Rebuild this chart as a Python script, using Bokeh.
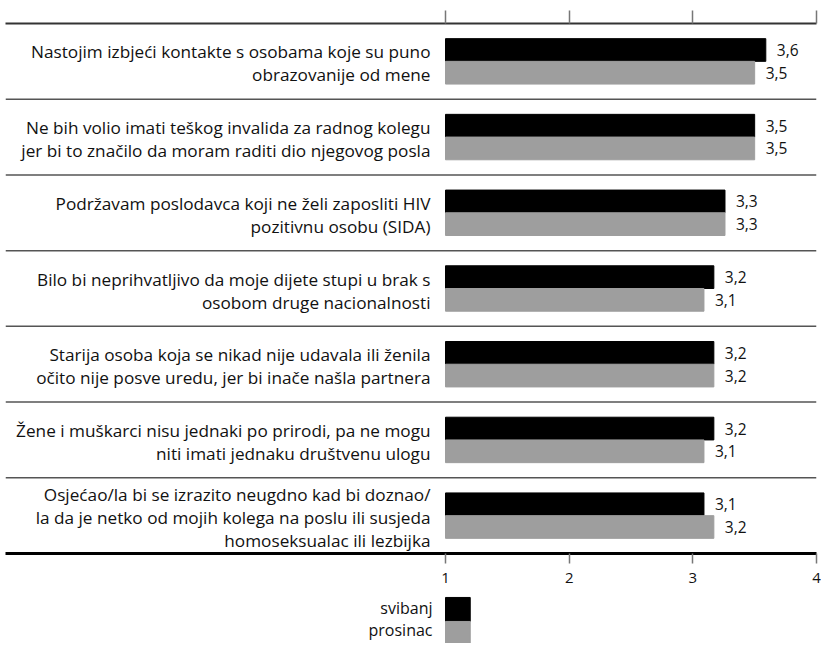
from bokeh.plotting import figure
from bokeh.models import Range1d, LinearAxis, FixedTicker, Span, ColumnDataSource, CustomJSTickFormatter
from bokeh.transform import dodge
from bokeh.layouts import column
from bokeh.core.properties import value
from bokeh.embed import file_html
from bokeh.resources import INLINE

categories = [
    "Nastojim izbjeći kontakte s osobama koje su puno\nobrazovanije od mene",
    "Ne bih volio imati teškog invalida za radnog kolegu\njer bi to značilo da moram raditi dio njegovog posla",
    "Podržavam poslodavca koji ne želi zaposliti HIV\npozitivnu osobu (SIDA)",
    "Bilo bi neprihvatljivo da moje dijete stupi u brak s\nosobom druge nacionalnosti",
    "Starija osoba koja se nikad nije udavala ili ženila\nočito nije posve uredu, jer bi inače našla partnera",
    "Žene i muškarci nisu jednaki po prirodi, pa ne mogu\nniti imati jednaku društvenu ulogu",
    "Osjećao/la bi se izrazito neugdno kad bi doznao/\nla da je netko od mojih kolega na poslu ili susjeda\nhomoseksualac ili lezbijka",
]
svibanj = [3.59, 3.50, 3.26, 3.17, 3.17, 3.17, 3.09]
prosinac = [3.50, 3.50, 3.26, 3.09, 3.17, 3.09, 3.17]
svibanj_labels = ["3,6", "3,5", "3,3", "3,2", "3,2", "3,2", "3,1"]
prosinac_labels = ["3,5", "3,5", "3,3", "3,1", "3,2", "3,1", "3,2"]
ticks = [1, 2, 3, 4]
series_names = ["svibanj", "prosinac"]

BLACK = "#000000"
GRAY = "#9e9e9e"
FONT = "Open Sans"
TEXT = "#111111"

n = len(categories)
idx = list(range(n))
src = ColumnDataSource(dict(y=idx, cat=categories, s=svibanj, p=prosinac,
                            sl=svibanj_labels, pl=prosinac_labels))

x_range = Range1d(-2.558, 4)
p = figure(width=821, height=590, x_range=x_range, y_range=Range1d(n - 0.5, -0.5),
           x_axis_location=None, y_axis_location=None, toolbar_location=None,
           output_backend="svg", min_border_left=5, min_border_right=5,
           min_border_top=23, min_border_bottom=37)
p.outline_line_color = None
p.xgrid.visible = False
p.ygrid.visible = False
p.background_fill_color = "white"
p.border_fill_color = "white"

top_axis = LinearAxis(ticker=FixedTicker(ticks=ticks),
                      formatter=CustomJSTickFormatter(code="return ''"))
top_axis.axis_line_width = 2
top_axis.axis_line_color = "#333333"
top_axis.major_tick_out = 13
top_axis.major_tick_in = 0
top_axis.major_tick_line_color = "#777777"
top_axis.major_tick_line_width = 1.5
top_axis.minor_tick_line_color = None
top_axis.major_label_text_font_size = "0px"
top_axis.major_label_standoff = 0
p.add_layout(top_axis, "above")

bottom_axis = LinearAxis(ticker=FixedTicker(ticks=ticks))
bottom_axis.axis_line_width = 3
bottom_axis.axis_line_color = "#000000"
bottom_axis.major_tick_out = 10
bottom_axis.major_tick_in = 0
bottom_axis.major_tick_line_color = "#777777"
bottom_axis.major_tick_line_width = 1.5
bottom_axis.minor_tick_line_color = None
bottom_axis.major_label_text_font = FONT
bottom_axis.major_label_text_font_size = "15px"
bottom_axis.major_label_text_color = TEXT
bottom_axis.major_label_standoff = 9
p.add_layout(bottom_axis, "below")

for i in range(n - 1):
    p.add_layout(Span(location=i + 0.5, dimension="width", line_color="#555555", line_width=1.5))

p.hbar(y=dodge("y", -0.15, range=p.y_range), left=1, right="s", height=0.3,
       color=BLACK, source=src)
p.hbar(y=dodge("y", 0.15, range=p.y_range), left=1, right="p", height=0.3,
       color=GRAY, source=src)

p.text(x="s", y=dodge("y", -0.15, range=p.y_range), text="sl", x_offset=11,
       text_baseline="middle", text_align="left", text_font=value(FONT),
       text_font_size="15.5px", text_color=TEXT, source=src)
p.text(x="p", y=dodge("y", 0.15, range=p.y_range), text="pl", x_offset=11,
       text_baseline="middle", text_align="left", text_font=value(FONT),
       text_font_size="15.5px", text_color=TEXT, source=src)

p.text(x=1, y="y", text="cat", x_offset=-15, y_offset=2, text_align="right",
       text_baseline="middle", text_font=value(FONT), text_font_size="17.2px",
       text_line_height=1.0, text_color=TEXT, source=src)

# legend figure
leg = figure(width=821, height=53, x_range=x_range, y_range=Range1d(1.418, -0.79),
             x_axis_location=None, y_axis_location=None, toolbar_location=None,
             output_backend="svg", min_border_left=5, min_border_right=5,
             min_border_top=0, min_border_bottom=0)
leg.outline_line_color = None
leg.xgrid.visible = False
leg.ygrid.visible = False
lsrc = ColumnDataSource(dict(y=[0, 1], name=series_names, c=[BLACK, GRAY], yo=[-1, -3]))
leg.hbar(y="y", left=1, right=1.2, height=1, color="c", source=lsrc)
leg.text(x=1, y="y", text="name", x_offset=-13, y_offset="yo", text_align="right",
         text_baseline="middle", text_font=value(FONT), text_font_size="16px",
         text_color=TEXT, source=lsrc)

layout = column(p, leg, spacing=0)
open("out.html", "w").write(file_html(layout, INLINE))
